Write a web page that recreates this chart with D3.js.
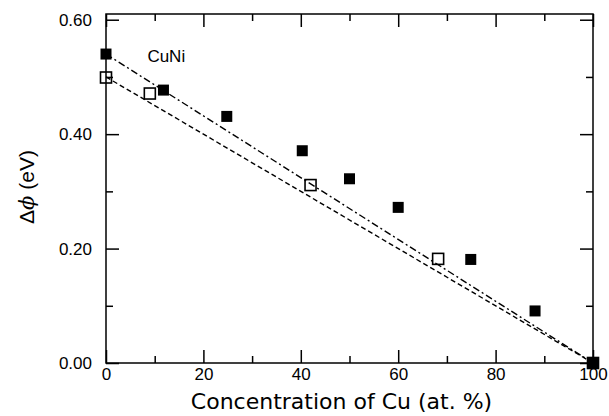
<!DOCTYPE html>
<html>
<head>
<meta charset="utf-8">
<script src="https://cdn.jsdelivr.net/npm/d3@7"></script>
<style>
  body { margin: 0; background: #fff; }
  svg { display: block; }
  .tick text { font-family: "Liberation Sans", Arial, sans-serif; font-size: 17px; fill: #000; }
</style>
</head>
<body>
<svg id="chart"></svg>
<script>
// measured Cu concentration (at. %) and work function change (eV)
const filledX = [0, 11.8, 24.8, 40.3, 50, 60, 74.9, 88.1, 100]
const filledY = [0.54, 0.477, 0.431, 0.371, 0.322, 0.272, 0.181, 0.091, 0.0]
const openX = [0, 9.0, 42.0, 68.2, 100]
const openY = [0.499, 0.471, 0.311, 0.182, 0.0]

// straight lines drawn through the two sets
const dashDotLine = [[0, 0.54], [100, 0.0]]
const dashedLine = [[0, 0.50], [100, 0.0]]

const xMajor = [0, 20, 40, 60, 80, 100]
const xMinor = [10, 30, 50, 70, 90]
const yMajor = [0, 0.2, 0.4, 0.6]
const yMinor = [0.1, 0.3, 0.5]

const w = 609
const h = 416
const margin = { top: 14, right: 16, bottom: 53, left: 106 }

const svg = d3.select('#chart')
    .attr('width', w)
    .attr('height', h)

const xScale = d3.scaleLinear()
    .domain([0, 100])
    .range([margin.left, w - margin.right])
const yScale = d3.scaleLinear()
    .domain([0, 0.61])
    .range([h - margin.bottom, margin.top])

const x0 = margin.left, x1 = w - margin.right
const y0 = h - margin.bottom, y1 = margin.top

// plot frame
svg.append('rect')
    .attr('x', x0).attr('y', y1)
    .attr('width', x1 - x0).attr('height', y0 - y1)
    .attr('fill', 'none')
    .attr('stroke', '#000')
    .attr('stroke-width', 1.5)

const tidy = g => {
    g.select('.domain').remove()
    g.selectAll('.tick line').attr('stroke', '#000').attr('stroke-width', 1.5)
}

// bottom axis
svg.append('g')
    .attr('transform', `translate(0, ${y0})`)
    .call(d3.axisBottom(xScale).tickValues(xMajor).tickSize(-13).tickPadding(5).tickFormat(d3.format('d')))
    .call(tidy)
svg.append('g')
    .attr('transform', `translate(0, ${y0})`)
    .call(d3.axisBottom(xScale).tickValues(xMinor).tickSize(-7).tickFormat(''))
    .call(tidy)
// top axis
svg.append('g')
    .attr('transform', `translate(0, ${y1})`)
    .call(d3.axisTop(xScale).tickValues(xMajor).tickSize(-13).tickFormat(''))
    .call(tidy)
svg.append('g')
    .attr('transform', `translate(0, ${y1})`)
    .call(d3.axisTop(xScale).tickValues(xMinor).tickSize(-7).tickFormat(''))
    .call(tidy)
// left axis
svg.append('g')
    .attr('transform', `translate(${x0}, 0)`)
    .call(d3.axisLeft(yScale).tickValues(yMajor).tickSize(-13).tickPadding(14).tickFormat(d3.format('.2f')))
    .call(tidy)
svg.append('g')
    .attr('transform', `translate(${x0}, 0)`)
    .call(d3.axisLeft(yScale).tickValues(yMinor).tickSize(-7).tickFormat(''))
    .call(tidy)
// right axis
svg.append('g')
    .attr('transform', `translate(${x1}, 0)`)
    .call(d3.axisRight(yScale).tickValues(yMajor).tickSize(-13).tickFormat(''))
    .call(tidy)
svg.append('g')
    .attr('transform', `translate(${x1}, 0)`)
    .call(d3.axisRight(yScale).tickValues(yMinor).tickSize(-7).tickFormat(''))
    .call(tidy)

// fit lines
const line = d3.line()
    .x(d => xScale(d[0]))
    .y(d => yScale(d[1]))

svg.append('path')
    .attr('d', line(dashDotLine))
    .attr('fill', 'none')
    .attr('stroke', '#000')
    .attr('stroke-width', 1.4)
    .attr('stroke-dasharray', '7,3,2,3')
svg.append('path')
    .attr('d', line(dashedLine))
    .attr('fill', 'none')
    .attr('stroke', '#000')
    .attr('stroke-width', 1.4)
    .attr('stroke-dasharray', '5,3')

// open squares
const os = 11
svg.selectAll('.open')
    .data(d3.zip(openX, openY))
    .enter()
    .append('rect')
    .attr('class', 'open')
    .attr('x', d => xScale(d[0]) - os / 2)
    .attr('y', d => yScale(d[1]) - os / 2)
    .attr('width', os)
    .attr('height', os)
    .attr('fill', 'none')
    .attr('stroke', '#000')
    .attr('stroke-width', 1.6)

// filled squares
const fs = 11
svg.selectAll('.filled')
    .data(d3.zip(filledX, filledY))
    .enter()
    .append('rect')
    .attr('class', 'filled')
    .attr('x', d => xScale(d[0]) - fs / 2)
    .attr('y', d => yScale(d[1]) - fs / 2)
    .attr('width', fs)
    .attr('height', fs)
    .attr('fill', '#000')

// label
svg.append('text')
    .attr('x', xScale(8.5))
    .attr('y', yScale(0.526))
    .style('font-family', '"Liberation Sans", Arial, sans-serif')
    .style('font-size', '17px')
    .text('CuNi')

// axis titles
svg.append('text')
    .attr('x', (x0 + x1) / 2 - 8)
    .attr('y', 409)
    .attr('text-anchor', 'middle')
    .style('font-family', '"DejaVu Sans", sans-serif')
    .style('font-size', '22px')
    .text('Concentration of Cu (at. %)')

const yt = svg.append('text')
    .attr('transform', `translate(34, 187) rotate(-90)`)
    .attr('text-anchor', 'middle')
    .style('font-family', '"Liberation Sans", Arial, sans-serif')
    .style('font-size', '21px')
yt.append('tspan').text('Δ')
yt.append('tspan').style('font-style', 'italic').style('font-family', '"DejaVu Serif", serif').text('ϕ')
yt.append('tspan').text(' (eV)')
</script>
</body>
</html>
